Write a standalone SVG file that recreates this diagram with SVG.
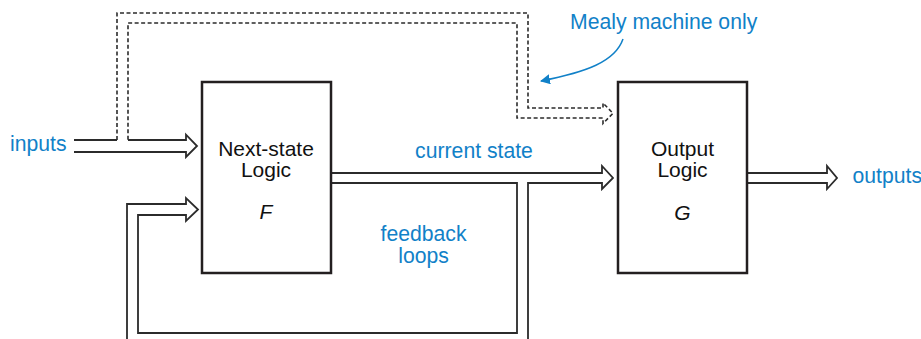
<svg xmlns="http://www.w3.org/2000/svg" width="921" height="339" viewBox="0 0 921 339">
<defs>
<style>
.box{fill:#fff;stroke:#231f20;stroke-width:2.5}
.bus{fill:none;stroke:#2b2b2b;stroke-width:1.8;stroke-linejoin:miter}
.dash{fill:none;stroke:#2b2b2b;stroke-width:1.6;stroke-dasharray:4 2.5}
.lbl{font-family:"Liberation Sans",Arial,sans-serif;font-size:21.2px;fill:#1181c8}
.nt{font-family:"Liberation Sans",Arial,sans-serif;font-size:21px;fill:#111;text-anchor:middle}
.it{font-style:italic}
</style>
<marker id="ah" viewBox="0 0 10 10" refX="9" refY="5" markerWidth="10" markerHeight="10" markerUnits="userSpaceOnUse" orient="auto">
<path d="M0,0 L10,5 L0,10 Z" fill="#1181c8"/>
</marker>
</defs>
<g id="connectors">
<path class="dash" d="M117,140 V13 H528 V108 H603 V103 L613,113.3 L603,123.5 V118 H517 V23 H128 V140"/>
<path class="bus" d="M74,140 H117 M128,140 H186 V134.7 L197,146 L186,157 V152 H74"/>
<path class="bus" d="M528,339 V183 H602 V189 L613,178 L602,166 V173 H331"/>
<path class="bus" d="M127,339 V204 H186 V198 L198,209.5 L186,221 V215 H138 V333 H517 V183 H331"/>
<path class="bus" d="M747,173 H827 V166 L837,178 L827,189 V183 H747"/>
<path d="M623,39 C615,62 586,72 541,81" fill="none" stroke="#1181c8" stroke-width="1.5" marker-end="url(#ah)"/>
</g>
<g id="next-state">
<rect class="box" x="202" y="82" width="129" height="191"/>
<text class="nt" x="266" y="156">Next-state</text>
<text class="nt" x="266" y="177">Logic</text>
<text class="nt it" x="266" y="219">F</text>
</g>
<g id="output-logic">
<rect class="box" x="618" y="82" width="129" height="191"/>
<text class="nt" x="682.5" y="156">Output</text>
<text class="nt" x="682.5" y="177">Logic</text>
<text class="nt it" x="682.5" y="220">G</text>
</g>
<g id="labels">
<text class="lbl" x="10" y="151">inputs</text>
<text class="lbl" x="570" y="29">Mealy machine only</text>
<text class="lbl" x="474" y="158.3" text-anchor="middle">current state</text>
<text class="lbl" x="852.5" y="183">outputs</text>
<text class="lbl" x="423.5" y="240.7" text-anchor="middle">feedback</text>
<text class="lbl" x="423.5" y="262.7" text-anchor="middle">loops</text>
</g>
</svg>
